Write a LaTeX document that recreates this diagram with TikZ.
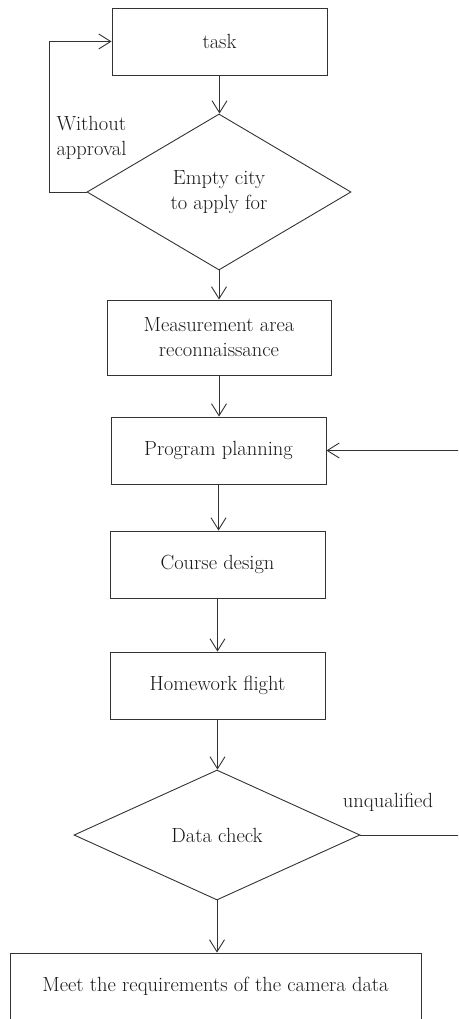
\documentclass[tikz,border=0pt]{standalone}
\usepackage{tikz}
\usetikzlibrary{shapes.geometric,arrows.meta}

\tikzset{
  flowline/.style={draw=black!80,line width=.9pt},
  arr/.style={flowline,-{Straight Barb[length=12pt,width=15pt,line width=.9pt]}},
  stepbox/.style={flowline,rectangle,inner sep=0pt,minimum width=215pt,minimum height=67pt,align=center},
  decide/.style={flowline,diamond,inner sep=0pt,align=center},
  every node/.style={text=black!90,font=\fontsize{20.5}{25}\selectfont}
}

\begin{document}
\begin{tikzpicture}[x=1pt,y=-1pt]
    \useasboundingbox (0,0) rectangle (458,1019);
    \clip (0,0) rectangle (458,1019);
    \node[stepbox] (task) at (219.5,41.5) {task};
    \node[decide,minimum width=264pt,minimum height=156pt] (apply) at (219,192) {Empty city\\to apply for};
    \node[stepbox,minimum width=224pt,minimum height=75pt] (recon) at (219,337.5) {Measurement area\\reconnaissance};
    \node[stepbox] (plan) at (218.5,450.5) {Program planning};
    \node[stepbox] (course) at (217.5,564.5) {Course design};
    \node[stepbox] (flight) at (217.5,685.5) {Homework flight};
    \node[decide,minimum width=286pt,minimum height=130pt] (dcheck) at (217,835) {Data check};
    \node[stepbox,minimum width=411pt,minimum height=66pt] (meet) at (215.5,986) {Meet the requirements of the camera data};
    % labels
    \node[anchor=west,align=left] (noapp) at (53,137.5) {Without\\approval};
    \node (unq) at (388,802) {unqualified};
    % connectors
    \draw[arr] (task.south) -- (task.south |- apply.north);
    \draw[arr] (apply.south) -- (apply.south |- recon.north);
    \draw[arr] (recon.south) -- (recon.south |- plan.north);
    \draw[arr] (plan.south) -- (plan.south |- course.north);
    \draw[arr] (course.south) -- (course.south |- flight.north);
    \draw[arr] (flight.south) -- (flight.south |- dcheck.north);
    \draw[arr] (dcheck.south) -- (dcheck.south |- meet.north);
    \draw[arr] (apply.west) -- (49,192) |- (task.west);
    \draw[arr] (dcheck.east) -- ++(130,0) |- (plan.east);
  \end{tikzpicture}
\end{document}
